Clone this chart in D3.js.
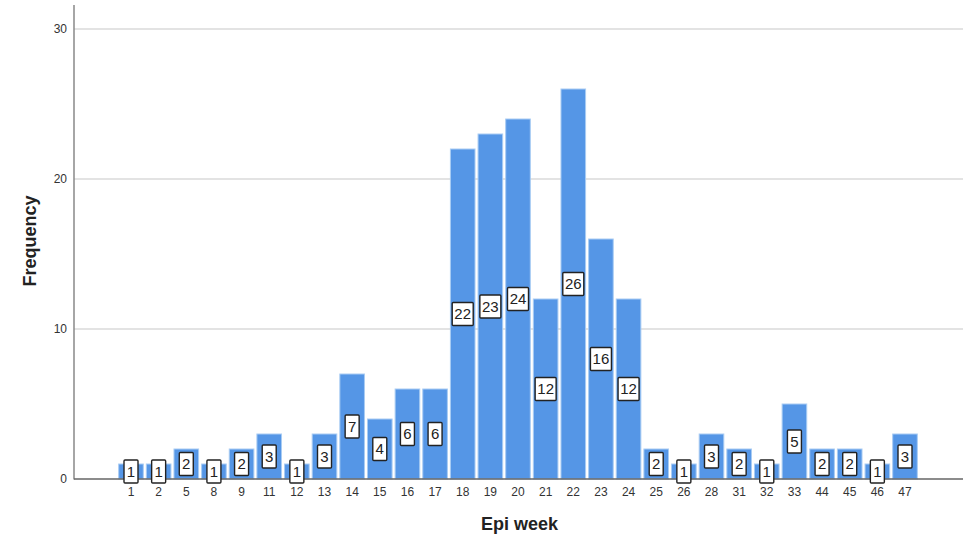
<!DOCTYPE html>
<html><head><meta charset="utf-8">
<script src="https://cdn.jsdelivr.net/npm/d3@7/dist/d3.min.js"></script>
<style>body{margin:0;background:#fff}svg{display:block}</style>
</head><body><svg id="c" width="975" height="554"></svg>
<script>
const weeks = ["1","2","5","8","9","11","12","13","14","15","16","17","18","19","20","21","22","23","24","25","26","28","31","32","33","44","45","46","47"];
const counts = [1,1,2,1,2,3,1,3,7,4,6,6,22,23,24,12,26,16,12,2,1,3,2,1,5,2,2,1,3];
const yTicks = [0,10,20,30];

const svg = d3.select("#c");
const font = "Liberation Sans, Arial, sans-serif";
const axisX = 74, plotRight = 963;
const y = d3.scaleLinear().domain([0,30]).range([479,29]);
const step = (905-131)/(weeks.length-1);
const x = d3.scaleBand().domain(weeks)
  .range([131-step/2, 905+step/2]).paddingInner(0.11).paddingOuter(0.055);

// gridlines
svg.append("g").selectAll("line").data(yTicks.filter(d=>d>0)).join("line")
  .attr("x1",axisX).attr("x2",plotRight)
  .attr("y1",d=>y(d)).attr("y2",d=>y(d))
  .attr("stroke","#c8c8c8").attr("stroke-width",1.2);

// bars
svg.append("g").selectAll("rect").data(weeks).join("rect")
  .attr("x",(d)=>x(d)).attr("width",x.bandwidth())
  .attr("y",(d,i)=>y(counts[i])).attr("height",(d,i)=>y(0)-y(counts[i]))
  .attr("fill","#5596e6").attr("stroke","#a9ccf3").attr("stroke-width",1);

// axes
const yAxis = d3.axisLeft(y).tickValues(yTicks).tickSize(0).tickPadding(7);
const gy = svg.append("g").attr("transform",`translate(${axisX},0)`).call(yAxis);
gy.select(".domain").remove();
gy.selectAll("text").attr("font-family",font).attr("font-size",12).attr("fill","#333");
svg.append("line").attr("x1",axisX).attr("x2",axisX).attr("y1",5).attr("y2",479.5)
  .attr("stroke","#888").attr("stroke-width",1.5);
svg.append("line").attr("x1",axisX).attr("x2",plotRight).attr("y1",479).attr("y2",479)
  .attr("stroke","#666").attr("stroke-width",1.5);

const xAxis = d3.axisBottom(x).tickSize(0).tickPadding(8);
const gx = svg.append("g").attr("transform","translate(0,479)").call(xAxis);
gx.select(".domain").remove();
gx.selectAll("text").attr("font-family",font).attr("font-size",12).attr("fill","#333");

// value labels
const lab = svg.append("g").selectAll("g").data(weeks).join("g")
  .attr("transform",(d,i)=>`translate(${x(d)+x.bandwidth()/2},${y(counts[i]/2)})`);
lab.append("rect")
  .attr("x",(d,i)=>-(String(counts[i]).length>1?10.5:7))
  .attr("width",(d,i)=>String(counts[i]).length>1?21:14)
  .attr("y",-11.5).attr("height",23)
  .attr("fill","#fff").attr("stroke","#222").attr("stroke-width",1.4).attr("rx",1);
lab.append("text").text((d,i)=>counts[i])
  .attr("text-anchor","middle").attr("dy","0.36em")
  .attr("font-family",font).attr("font-size",15).attr("fill","#222");

// titles
svg.append("text").text("Frequency")
  .attr("transform","translate(36,241) rotate(-90)")
  .attr("text-anchor","middle").attr("font-family",font)
  .attr("font-size",18).attr("font-weight","bold").attr("fill","#222");
svg.append("text").text("Epi week")
  .attr("x",519.5).attr("y",530).attr("text-anchor","middle").attr("font-family",font)
  .attr("font-size",18).attr("font-weight","bold").attr("fill","#222");
</script></body></html>
